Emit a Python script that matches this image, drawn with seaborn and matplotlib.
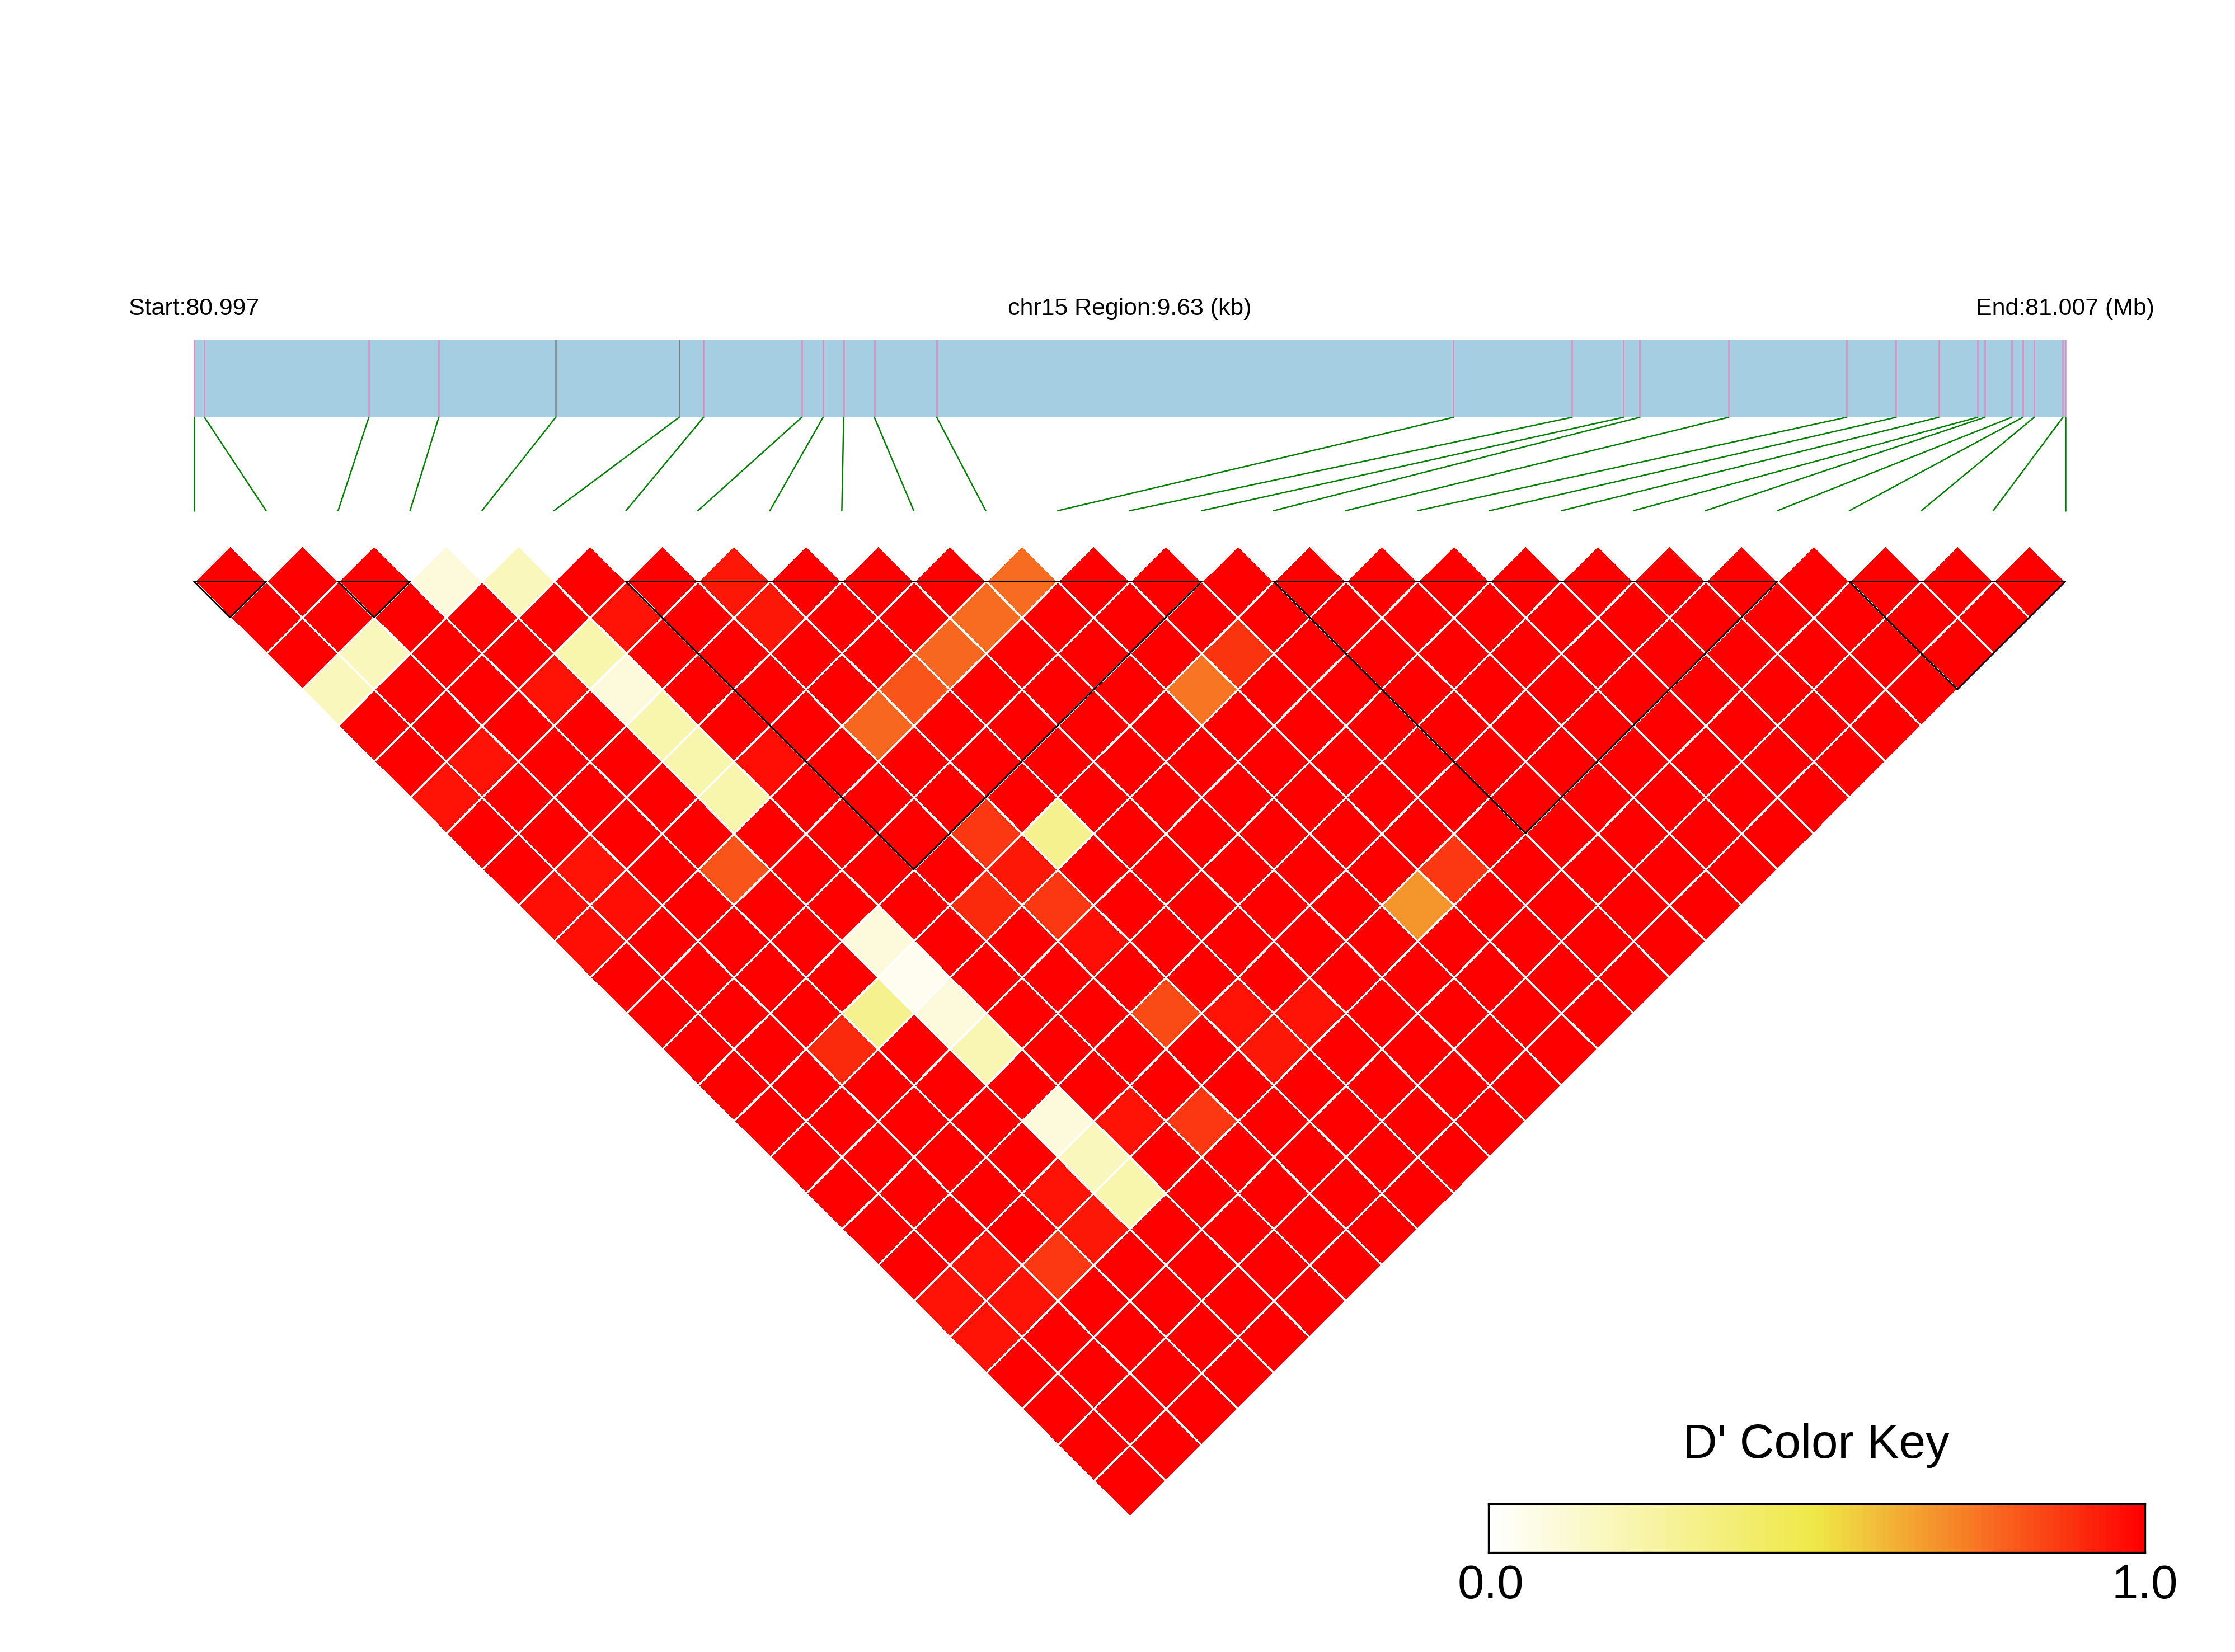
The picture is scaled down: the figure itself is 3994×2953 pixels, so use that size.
import numpy as np
import matplotlib.pyplot as plt
import seaborn as sns
from matplotlib.colors import LinearSegmentedColormap
from matplotlib.transforms import Affine2D

sns.set_style("white")
plt.rcParams["font.family"] = ["Liberation Sans", "DejaVu Sans"]
plt.rcParams["text.color"] = "black"

### SNP positions (bp from region start, region = 9.63 kb)
region_len = 9630
snp_pos = [0, 53, 899, 1259, 1861, 2496, 2622, 3127, 3237, 3343, 3501, 3822,
           6481, 7091, 7356, 7440, 7897, 8504, 8759, 8979, 9179, 9216, 9354,
           9412, 9470, 9618, 9630]
gray_snps = [4, 5]

### haplotype blocks (first snp, last snp)
blocks = [(0, 1), (2, 3), (6, 14), (15, 22), (23, 26)]

### D' values that are not 1.0 : (snp i, snp j, D')
low_dprime = [
    (3, 4, 0.10), (4, 5, 0.18), (1, 4, 0.18), (0, 4, 0.18),
    (4, 7, 0.22), (4, 8, 0.10), (4, 9, 0.22), (4, 10, 0.22), (4, 11, 0.22),
    (5, 7, 0.95), (3, 7, 0.95), (1, 7, 0.95), (0, 7, 0.95),
    (0, 10, 0.96), (1, 10, 0.95), (0, 11, 0.96), (1, 11, 0.96), (5, 11, 0.96),
    (7, 8, 0.94), (7, 9, 0.94),
    (11, 12, 0.76), (10, 12, 0.76), (9, 12, 0.77), (8, 12, 0.81), (7, 12, 0.77),
    (3, 12, 0.81), (7, 15, 0.87), (8, 16, 0.30), (7, 16, 0.94),
    (12, 16, 0.74), (13, 16, 0.88),
    (4, 15, 0.10), (4, 16, 0.04), (3, 16, 0.30), (2, 16, 0.90), (6, 16, 0.90),
    (7, 17, 0.87), (7, 18, 0.96), (4, 17, 0.10), (4, 18, 0.20),
    (7, 20, 0.83), (8, 21, 0.95), (9, 22, 0.95), (8, 22, 0.94), (6, 22, 0.87),
    (5, 21, 0.95), (4, 20, 0.10), (4, 21, 0.18), (4, 22, 0.22),
    (3, 21, 0.95), (3, 22, 0.94), (2, 22, 0.87), (1, 21, 0.95), (0, 21, 0.95),
    (1, 22, 0.95), (0, 22, 0.95), (12, 22, 0.67), (13, 22, 0.87),
]

n = len(snp_pos)
dprime = np.ones((n, n))
for i, j, val in low_dprime:
    dprime[j, i] = val
mask = np.triu(np.ones((n, n), dtype=bool))

cmap = LinearSegmentedColormap.from_list("ld", ["#FFFFFF", "#EFE846", "#FF0000"], N=100)

fig = plt.figure(figsize=(3994 / 300, 2953 / 300), dpi=300)
ax = fig.add_axes([0, 0, 1, 1])

sns.heatmap(dprime, mask=mask, cmap=cmap, vmin=0, vmax=1, cbar=False,
            linewidths=0.6, linecolor="white",
            xticklabels=False, yticklabels=False, ax=ax)
# rotate the lower triangle by 45 deg so snp k sits at x = k
mesh = ax.collections[0]
mesh.set_transform(Affine2D.from_values(0.5, -0.5, 0.5, 0.5, -0.5, -0.5) + ax.transData)

### blocks
for a, b in blocks:
    ax.plot([a, (a + b) / 2, b, a], [0, (b - a) / 2, 0, 0], color="black", lw=0.7)

### gene bar + snp marks
bar_top, bar_bot, link_end = -3.363, -2.282, -0.984
snp_u = [p / region_len * (n - 1) for p in snp_pos]
ax.fill_between([0, n - 1], bar_top, bar_bot, color="#A6CEE3", lw=0)
line_cols = ["#7F7F7F" if k in gray_snps else "#E18ABF" for k in range(n)]
ax.vlines(snp_u, bar_top, bar_bot, colors=line_cols, lw=0.6)
for k in range(n):
    ax.plot([snp_u[k], k], [bar_bot, link_end], color="green", lw=0.6)

ax.text(0, -3.705, "Start:80.997", ha="center", va="baseline", fontsize=10.3)
ax.text((n - 1) / 2, -3.705, "chr15 Region:9.63 (kb)", ha="center", va="baseline", fontsize=10.3)
ax.text(n - 1, -3.705, "End:81.007 (Mb)", ha="center", va="baseline", fontsize=10.3)

ax.set_xlim(-2.698, 28.359)
ax.set_ylim(14.880, -8.083)
ax.axis("off")

### colour key
cax = fig.add_axes([0.666, 0.0603, 0.2937, 0.02946])
sns.heatmap(np.linspace(0, 1, 100)[None, :], cmap=cmap, vmin=0, vmax=1, cbar=False,
            xticklabels=False, yticklabels=False, ax=cax)
for sp in cax.spines.values():
    sp.set_visible(True)
    sp.set_color("black")
    sp.set_linewidth(0.8)

fig.text(0.8127, 0.1175, "D' Color Key", ha="center", va="baseline", fontsize=20.5)
fig.text(0.667, 0.0325, "0.0", ha="center", va="baseline", fontsize=20.5)
fig.text(0.9597, 0.0325, "1.0", ha="center", va="baseline", fontsize=20.5)

fig.savefig("out.png", dpi=300)
